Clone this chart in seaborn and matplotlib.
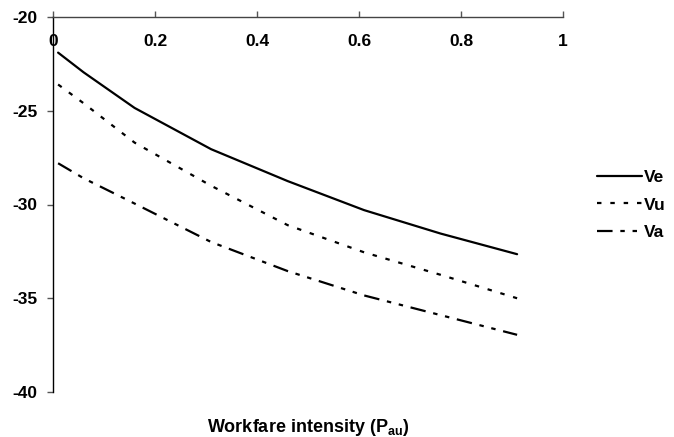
import matplotlib
matplotlib.use("Agg")
import matplotlib.pyplot as plt
import seaborn as sns
import pandas as pd

# Values
pau = [0.01, 0.06, 0.16, 0.31, 0.46, 0.61, 0.76, 0.91]
ve = [-21.9, -22.95, -24.85, -27.05, -28.75, -30.3, -31.55, -32.65]
vu = [-23.6, -24.6, -26.7, -29.0, -31.1, -32.55, -33.75, -35.0]
va = [-27.8, -28.6, -29.95, -32.0, -33.55, -34.85, -35.9, -36.95]
series_names = ["Ve", "Vu", "Va"]
x_ticks = [0, 0.2, 0.4, 0.6, 0.8, 1]
x_tick_labels = ["0", "0.2", "0.4", "0.6", "0.8", "1"]
y_ticks = [-40, -35, -30, -25, -20]
y_tick_labels = ["-40", "-35", "-30", "-25", "-20"]

sns.set_style("white")
plt.rcParams["font.family"] = ["Liberation Sans", "DejaVu Sans"]
plt.rcParams["font.weight"] = "bold"
plt.rcParams["text.color"] = "black"
plt.rcParams["axes.labelcolor"] = "black"
plt.rcParams["xtick.labelcolor"] = "black"
plt.rcParams["ytick.labelcolor"] = "black"
plt.rcParams["axes.unicode_minus"] = False
plt.rcParams["mathtext.fontset"] = "custom"
plt.rcParams["mathtext.rm"] = "Liberation Sans:bold"
plt.rcParams["mathtext.bf"] = "Liberation Sans:bold"
plt.rcParams["lines.linewidth"] = 1.5

df = pd.DataFrame({
    "pau": pau * 3,
    "value": ve + vu + va,
    "series": [s for s in series_names for _ in pau],
})

fig, ax = plt.subplots(figsize=(6.74, 4.37), dpi=100)
fig.subplots_adjust(left=53 / 674, right=563 / 674, top=1 - 17 / 437, bottom=1 - 392 / 437)

dash_styles = {"Ve": "", "Vu": (2, 4), "Va": (7, 3.5, 2, 3.5, 2, 3.5)}
sns.lineplot(data=df, x="pau", y="value", style="series", style_order=series_names,
             dashes=dash_styles, color="black", linewidth=1.6, ax=ax)

ax.set_xlim(0, 1)
ax.set_ylim(-40, -20)
ax.set_xticks(x_ticks)
ax.set_xticklabels(x_tick_labels, fontweight="bold", fontsize=12.5, color="black")
ax.set_yticks(y_ticks)
ax.set_yticklabels(y_tick_labels, fontweight="bold", fontsize=12.5, color="black")

for side in ["right", "bottom"]:
    ax.spines[side].set_visible(False)
ax.spines["left"].set_color("black")
ax.spines["top"].set_color("#444444")
ax.spines["left"].set_linewidth(1.0)
ax.spines["top"].set_linewidth(1.0)

ax.tick_params(axis="x", top=True, bottom=False, labeltop=True, labelbottom=False,
               direction="out", length=4, width=1, color="#555555", pad=-27)
ax.tick_params(axis="y", left=True, direction="out", length=4, width=1,
               color="#555555", pad=7)

ax.set_ylabel("")
ax.xaxis.set_label_position("bottom")
ax.set_xlabel(r"Workfare intensity (P$_{\mathbf{au}}$)", fontsize=13,
              fontweight="bold", labelpad=18, color="black")

old = ax.get_legend()
handles = old.legend_handles
labels = [t.get_text() for t in old.get_texts()]
old.remove()
leg = fig.legend(handles, labels, loc="center left", bbox_to_anchor=(597 / 674, 1 - 205 / 437),
                 frameon=False, fontsize=12.5, handlelength=2.6, handletextpad=0.1,
                 labelspacing=0.72, borderpad=0, borderaxespad=0)
for t in leg.get_texts():
    t.set_fontweight("bold")
    t.set_color("black")

fig.savefig("out.png", dpi=100)
